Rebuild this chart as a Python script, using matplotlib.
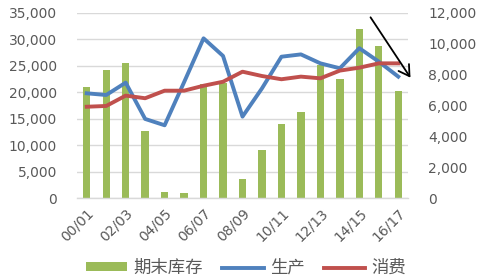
import matplotlib
matplotlib.use("Agg")
import matplotlib.pyplot as plt
from matplotlib.ticker import FuncFormatter, MultipleLocator
from matplotlib.patches import Patch, FancyArrowPatch
from matplotlib.lines import Line2D
import numpy as np

categories = ["00/01", "01/02", "02/03", "03/04", "04/05", "05/06", "06/07", "07/08",
              "08/09", "09/10", "10/11", "11/12", "12/13", "13/14", "14/15", "15/16", "16/17"]
stock = [21000, 24100, 25500, 12600, 1130, 890, 21570, 21650, 3600, 9000, 14000,
         16300, 25100, 22400, 31900, 28800, 20300]
production = [6780, 6670, 7470, 5120, 4710, 7500, 10340, 9200, 5270, 7100, 9150,
              9300, 8720, 8400, 9700, 8830, 7860]
consumption = [5910, 5960, 6630, 6460, 6950, 6950, 7270, 7530, 8180, 7900, 7690,
               7860, 7750, 8250, 8440, 8720, 8720]
legend_labels = ["期末库存", "生产", "消费"]

green = "#9BBB59"
blue = "#4F81BD"
red = "#C0504D"
gray = "#595959"

plt.rcParams['font.family'] = ['DejaVu Sans']

fig = plt.figure(figsize=(4.82, 2.80), dpi=100)
ax = fig.add_axes([77/482, 1-198/280, (408-77)/482, (198-12.7)/280])
x = np.arange(len(categories))

ax.bar(x, stock, width=0.38, color=green, zorder=2)
ax.set_xlim(-0.5, len(categories) - 0.5)
ax.set_ylim(0, 35000)
ax.yaxis.set_major_locator(MultipleLocator(5000))
ax.yaxis.set_major_formatter(FuncFormatter(lambda v, p: f"{int(v):,}"))
ax.grid(axis='y', color='#D9D9D9', linewidth=1, zorder=0)
ax.set_axisbelow(True)
for s in ['top', 'right', 'left']:
    ax.spines[s].set_visible(False)
ax.spines['bottom'].set_color('#D9D9D9')
ax.spines['bottom'].set_linewidth(1)
ax.tick_params(axis='both', length=0, labelsize=10, colors=gray)
ax.tick_params(axis='y', pad=14.5)
ax.set_xticks(x[::2])
ax.set_xticklabels(categories[::2], rotation=45, ha='right', rotation_mode='anchor')
ax.tick_params(axis='x', pad=6)

ax2 = ax.twinx()
ax2.plot(x, production, color=blue, linewidth=2.8, solid_joinstyle='round', zorder=3)
ax2.plot(x, consumption, color=red, linewidth=2.8, solid_joinstyle='round', zorder=3)
ax2.set_ylim(0, 12000)
ax2.yaxis.set_major_locator(MultipleLocator(2000))
ax2.yaxis.set_major_formatter(FuncFormatter(lambda v, p: f"{int(v):,}"))
for s in ax2.spines.values():
    s.set_visible(False)
ax2.tick_params(axis='y', length=0, labelsize=10, colors=gray, pad=14.5)

# trend arrow
fig.add_artist(FancyArrowPatch(
    (369/482, 1-15/280), (412/482, 1-80/280), transform=fig.transFigure,
    arrowstyle='->,head_length=5,head_width=3', color='black', linewidth=1.3,
    mutation_scale=1.5))

handles = [Patch(facecolor=green, edgecolor='none'),
           Line2D([0], [0], color=blue, linewidth=2.8),
           Line2D([0], [0], color=red, linewidth=2.8)]
fig.legend(handles, legend_labels, loc='center', bbox_to_anchor=(246/482, 1-268/280),
           ncol=3, frameon=False, handlelength=2.4, handleheight=0.45, handletextpad=0.35,
           columnspacing=1.1, prop={'family': ['Noto Sans CJK SC', 'DejaVu Sans'], 'size': 12.5},
           labelcolor=gray)

fig.savefig("out.png", dpi=100)
